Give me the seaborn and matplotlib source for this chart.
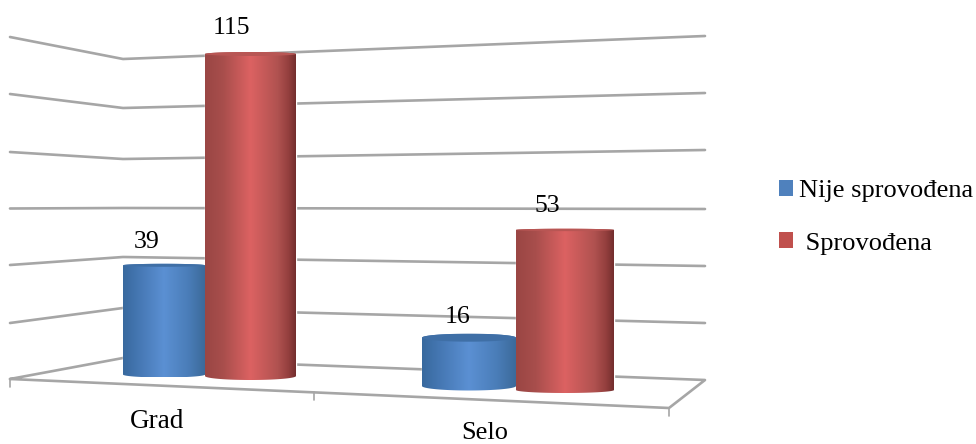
import numpy as np
import pandas as pd
import matplotlib.pyplot as plt
import seaborn as sns
from matplotlib.colors import LinearSegmentedColormap
from matplotlib.patches import Patch, Polygon

# Chart data
categories = ["Grad", "Selo"]
series_names = ["Nije sprovođena", "Sprovođena"]
not_done = [39, 16]
done = [115, 53]

W, H = 976, 444

sns.set_theme(style="white")
plt.rcParams['font.family'] = ['Liberation Serif', 'DejaVu Sans']
plt.rcParams['text.color'] = 'black'

df = pd.DataFrame({
    "mjesto": categories * 2,
    "status": [series_names[0]] * 2 + [series_names[1]] * 2,
    "broj": not_done + done,
})

fig = plt.figure(figsize=(W / 100, H / 100), dpi=100)
fig.patch.set_facecolor("white")

# Pixel space axes for the fake 3D walls and for the cylinders on top
back = fig.add_axes([0, 0, 1, 1], zorder=0)
front = fig.add_axes([0, 0, 1, 1], zorder=3)
for a in (back, front):
    a.set_xlim(0, W)
    a.set_ylim(H, 0)
    a.axis("off")
    a.patch.set_alpha(0)

# Walls: left edge, back corner, right edge
wall_left = [37, 94, 152, 208.5, 265, 323]
wall_corner = [59, 108, 159, 208, 257, 308]
wall_right = [36, 93, 150, 209, 266, 323]
wall_color = "#a6a6a6"
for yl, yc, yr in zip(wall_left, wall_corner, wall_right):
    back.plot([10, 123, 705], [yl, yc, yr], color=wall_color, lw=1.9)

# Floor and the ticks under its front edge
back.plot([10, 123, 705, 669, 10], [379, 358, 380, 408, 379], color=wall_color, lw=1.9)
for tx, y0, y1 in [(10, 379, 387), (314, 392, 400), (669, 408, 416)]:
    back.plot([tx, tx], [y0, y1], color=wall_color, lw=1.2)

blue_cmap = LinearSegmentedColormap.from_list(
    "blue_cyl", [(0, "#38699e"), (0.2, "#4678b4"), (0.5, "#5b90d3"), (0.8, "#4a7db8"), (1, "#3c6a9a")])
red_cmap = LinearSegmentedColormap.from_list(
    "red_cyl", [(0, "#9a4644"), (0.2, "#a84e4c"), (0.5, "#dc6262"), (0.8, "#b05250"),
                (0.92, "#943f3e"), (1, "#732e2e")])
cmaps = [blue_cmap, red_cmap]
base_colors = ["#4f81bd", "#c0504d"]


def draw_cylinder(patch, cmap, top_ry, bottom_ry, cap_color):
    # the seaborn bar gives the box, the cylinder is painted over it
    box = patch.get_window_extent()
    x0, x1 = box.x0, box.x1
    y_top, y_bot = H - box.y1, H - box.y0
    cx, rx = (x0 + x1) / 2, (x1 - x0) / 2
    t = np.linspace(0, np.pi, 60)
    upper = np.c_[cx - rx * np.cos(t), y_top - top_ry * np.sin(t)]
    lower = np.c_[cx + rx * np.cos(t), y_bot + bottom_ry * np.sin(t)]
    outline = Polygon(np.vstack([upper, lower]), closed=True, transform=front.transData,
                      fc="none", ec="none")
    front.add_patch(outline)
    shade = np.linspace(0, 1, 256).reshape(1, -1)
    img = front.imshow(shade, cmap=cmap, aspect="auto", interpolation="bilinear",
                       extent=(x0, x1, y_bot + bottom_ry, y_top - top_ry))
    img.set_clip_path(outline)
    # top face
    cap_t = np.linspace(0, 2 * np.pi, 80)
    cap = np.c_[cx + rx * np.cos(cap_t), y_top + top_ry * np.sin(cap_t)]
    front.add_patch(Polygon(cap, closed=True, fc=cap_color, ec="none"))


def draw_panel(category, left, split, right, base_px, px_per_unit, shifts, top_ry, bottom_ry,
               label_dx, label_dy):
    height_px = 125 * px_per_unit
    ax = fig.add_axes([left / W, 1 - base_px / H, (right - left) / W, height_px / H], zorder=2)
    sns.barplot(data=df[df["mjesto"] == category], x="mjesto", y="broj", hue="status",
                hue_order=series_names, palette=base_colors, width=1, gap=0,
                legend=False, ax=ax, saturation=1)
    ax.set_xlim(-0.5, 0.5)
    ax.set_ylim(0, 125)
    ax.axis("off")
    ax.patch.set_alpha(0)

    mid = (split - left) / (right - left) - 0.5
    spans = [(-0.5, mid + 0.5), (mid, 0.5 - mid)]
    for i, container in enumerate(ax.containers):
        bar = container[0]
        bar.set_x(spans[i][0])
        bar.set_width(spans[i][1])
        # the nearer bar stands a little lower on the floor
        bar.set_y(-shifts[i] / px_per_unit)
        bar.set_clip_on(False)
        value = bar.get_height()
        cap_color = ["#3f6fa6", "#b85654"][i]
        draw_cylinder(bar, cmaps[i], top_ry[i], bottom_ry[i], cap_color)
        ax.annotate(f"{value:.0f}", (bar.get_x() + bar.get_width() / 2, value),
                    xytext=(label_dx[i] * 0.72, label_dy[i] * 0.72), textcoords="offset points",
                    ha="center", va="center", fontsize=18.5, color="black",
                    annotation_clip=False)
    return ax


draw_panel("Grad", 123, 205, 296, 374.5, 2.8, [0, 1.5], [1.5, 2], [3, 4],
           [-17, -19], [23, 25])
draw_panel("Selo", 422, 516, 614, 386, 3.02, [0, 4], [4, 1.2], [4.5, 3],
           [-11, -18], [21, 20])
front.set_xlim(0, W)
front.set_ylim(H, 0)

# Category labels
back.text(157, 421, categories[0], ha="center", va="center", fontsize=19.5, color="black")
back.text(485, 433, categories[1], ha="center", va="center", fontsize=19, color="black")

# Legend
handles = [Patch(fc=base_colors[0], ec="none"), Patch(fc=base_colors[1], ec="none")]
fig.legend(handles, [series_names[0], " " + series_names[1]],
           loc="upper left", bbox_to_anchor=(779 / W, 1 - 180 / H), bbox_transform=fig.transFigure,
           frameon=False, fontsize=19, handlelength=0.53, handleheight=0.53,
           handletextpad=0.23, labelspacing=1.15, borderpad=0, borderaxespad=0)

fig.savefig("out.png", dpi=100)
